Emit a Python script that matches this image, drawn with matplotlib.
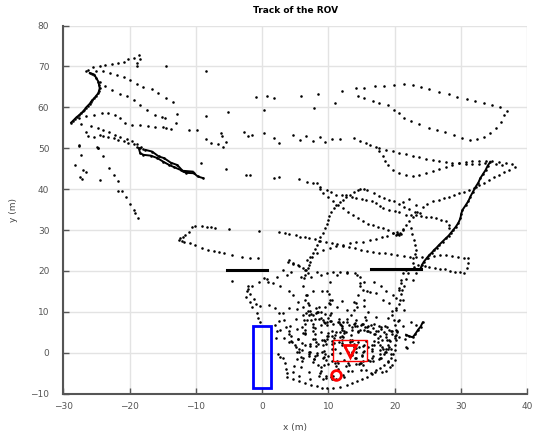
import numpy as np
import matplotlib.pyplot as plt
from matplotlib.patches import Rectangle

# ROV track, one list of (x, y) per stretch
nw_top = [(-18.6, 72.9), (-18.4, 71.8), (-18.9, 70.8), (-18.9, 70.0), (-19.4, 72.0), (-20.2, 71.8),
          (-20.9, 71.2), (-21.7, 70.8), (-22.7, 70.6), (-23.7, 70.4), (-24.5, 70.2), (-25.5, 69.8),
          (-26.3, 69.2), (-26.6, 68.8)]
nw_drop = [(-26.0, 68.4), (-25.6, 68.2), (-25.3, 68.0), (-25.0, 67.1), (-24.7, 66.3), (-24.6, 65.5),
           (-24.5, 64.7), (-24.6, 64.1), (-24.7, 63.5), (-25.0, 62.9), (-25.3, 62.3), (-25.6, 61.8),
           (-25.8, 61.4), (-26.0, 60.9), (-26.3, 60.4), (-26.6, 59.9), (-26.8, 59.4), (-27.0, 59.0),
           (-27.3, 58.6), (-27.6, 58.1), (-28.0, 57.6), (-28.3, 57.1), (-28.6, 56.6), (-28.8, 56.3)]
nw_line1 = [(-25.0, 68.8), (-24.0, 69.0), (-23.0, 68.5), (-21.9, 68.0), (-20.9, 67.4), (-20.0, 66.7),
            (-18.9, 65.8), (-17.9, 64.9), (-16.6, 64.5), (-15.7, 63.6), (-14.5, 62.3), (-13.4, 61.4)]
nw_line2 = [(-24.5, 66.3), (-23.7, 65.3), (-22.7, 64.3), (-21.4, 63.2), (-20.4, 62.7), (-19.4, 61.7),
            (-18.4, 60.6), (-17.3, 59.4), (-16.2, 58.2), (-15.1, 57.6), (-14.6, 57.3), (-13.0, 56.3)]
nw_arc = [(-27.6, 57.4), (-26.5, 57.9), (-25.3, 58.2), (-24.2, 58.6), (-23.2, 58.6), (-22.2, 58.2),
          (-21.4, 57.4), (-20.7, 56.3), (-19.6, 55.7), (-18.4, 55.6), (-17.2, 55.5), (-16.1, 55.3),
          (-14.9, 55.2), (-14.5, 54.9), (-13.8, 54.7), (-11.0, 54.5), (-9.9, 54.5)]
nw_low1 = [(-27.3, 56.0), (-25.8, 55.5), (-24.7, 54.9), (-24.0, 54.5), (-23.1, 53.9), (-22.2, 53.3),
           (-21.4, 52.7), (-20.4, 52.2), (-19.6, 51.7), (-18.9, 51.1), (-18.3, 50.4), (-17.9, 49.9)]
nw_low2 = [(-25.3, 52.7), (-24.5, 53.3), (-24.0, 52.9), (-23.2, 52.7), (-22.4, 52.5), (-21.7, 52.1),
           (-20.9, 51.7), (-20.2, 51.4), (-19.4, 51.1), (-18.9, 50.4), (-18.4, 50.0)]
nw_diag = [(-24.8, 50.1), (-24.0, 48.0), (-23.1, 45.1), (-22.4, 43.5), (-21.8, 41.9), (-21.8, 39.6),
           (-21.2, 39.6), (-20.5, 38.0), (-19.9, 36.4), (-19.4, 34.9), (-19.2, 34.1), (-18.7, 32.9)]
w_thick = [(-18.6, 50.0), (-18.4, 48.8), (-17.9, 48.4), (-16.8, 48.2), (-15.8, 47.6), (-14.9, 46.7),
           (-14.0, 45.9), (-13.3, 45.4), (-12.3, 44.7), (-11.5, 44.0), (-10.3, 43.9), (-9.7, 43.1),
           (-8.9, 42.7)]
w_thick2 = [(-17.6, 49.6), (-16.6, 49.2), (-15.6, 48.0), (-14.8, 47.6), (-13.8, 46.5),
            (-12.8, 45.9), (-12.0, 44.5), (-10.5, 44.3)]
w_dots = [(-26.3, 52.9), (-27.6, 50.6), (-24.7, 50.0), (-26.5, 54.0), (-27.6, 50.8), (-27.3, 48.4),
          (-28.3, 45.9), (-27.0, 44.7), (-26.5, 44.3), (-27.4, 42.9), (-27.2, 42.4), (-24.5, 42.3),
          (-24.9, 50.2), (-12.9, 58.4), (-14.5, 70.0), (-8.4, 68.8), (-8.4, 57.9), (-5.2, 58.8),
          (-0.9, 62.5), (0.8, 62.7), (1.8, 62.3), (5.9, 62.7), (8.4, 63.3), (7.8, 59.8), (0.2, 59.4),
          (11.0, 61.0), (12.0, 64.1), (14.2, 64.7), (-9.2, 46.3), (-5.4, 44.9), (-2.4, 43.5),
          (-1.9, 43.5), (1.8, 42.7), (2.6, 42.9), (5.5, 42.4), (-4.6, 17.6)]
mid_row = [(-8.4, 52.2), (-7.7, 51.4), (-6.6, 51.1), (-6.2, 53.7), (-6.0, 52.9), (-5.9, 50.2),
           (-5.5, 51.6), (-2.8, 54.1), (-2.1, 52.9), (-1.5, 53.2), (0.3, 53.7), (1.8, 52.6), (2.6, 51.4),
           (4.6, 53.3), (5.7, 52.1), (6.6, 52.9), (7.6, 51.7), (8.7, 52.7), (9.4, 51.5), (10.5, 52.2),
           (11.7, 52.2), (13.8, 52.5), (14.8, 51.7), (15.6, 51.3), (16.3, 50.9), (17.1, 50.4)]
ne_loop = [(14.5, 62.8), (15.3, 62.3), (16.7, 61.6), (17.6, 61.1), (19.0, 60.6), (19.9, 59.4),
           (20.6, 58.7), (21.4, 57.5), (22.5, 56.7), (23.7, 56.0), (25.1, 55.0), (26.3, 54.5),
           (27.5, 54.0), (28.9, 53.3), (30.1, 52.6), (31.3, 52.0), (32.4, 52.3), (33.5, 52.8),
           (34.4, 53.8), (35.2, 55.0), (36.0, 56.5), (36.5, 58.2), (36.9, 59.2), (35.8, 60.1),
           (34.7, 60.6), (33.5, 61.1), (32.1, 61.6), (30.9, 62.1), (29.4, 62.6), (28.1, 63.3),
           (26.6, 63.8), (25.2, 64.5), (24.0, 65.0), (22.8, 65.5), (21.4, 65.8), (19.9, 65.5),
           (18.3, 65.3), (17.0, 65.3), (15.3, 64.8)]
e_path1 = [(17.6, 49.4), (18.2, 48.2), (18.5, 47.0), (19.0, 45.8), (19.7, 44.7), (20.7, 44.0),
           (21.7, 43.4), (22.7, 43.2), (23.7, 43.5), (24.7, 43.9), (25.7, 44.4), (26.7, 44.9),
           (27.7, 45.4), (28.7, 45.9), (29.7, 46.4), (30.7, 46.7), (31.7, 46.9), (32.7, 47.0),
           (33.7, 46.9), (34.7, 46.8), (35.7, 46.6), (36.7, 46.3), (37.6, 46.2), (38.2, 45.5)]
e_path2 = [(17.6, 50.0), (18.7, 49.6), (19.7, 49.3), (20.7, 48.9), (21.7, 48.5), (22.7, 48.1),
           (23.7, 47.8), (24.7, 47.5), (25.7, 47.2), (26.7, 47.0), (27.7, 46.7), (28.7, 46.5),
           (29.7, 46.3), (30.7, 46.2), (31.7, 46.2), (32.7, 46.2), (33.6, 46.4), (35.3, 46.2), (36.2, 45.9)]
e_back = [(37.2, 44.7), (36.4, 44.1), (35.7, 43.5), (34.9, 42.9), (34.2, 42.3), (33.4, 41.6),
          (32.7, 41.0), (31.9, 40.4), (31.2, 39.8), (30.4, 39.4), (29.7, 39.0), (28.9, 38.6),
          (28.2, 38.2), (27.4, 37.8), (26.7, 37.4), (25.7, 37.0), (24.9, 36.3), (24.2, 35.7),
          (23.4, 34.5), (22.7, 33.3), (22.2, 32.3), (21.7, 31.2), (21.2, 30.2)]
e_thick = [(34.4, 46.7), (34.0, 45.7), (33.7, 44.7), (33.3, 43.7), (32.9, 42.7), (32.6, 41.6),
           (32.2, 40.6), (31.8, 39.4), (31.4, 38.2), (31.1, 37.1), (30.7, 36.1), (30.2, 34.9),
           (30.0, 33.9), (29.9, 32.9), (29.6, 31.8), (29.2, 30.8), (28.8, 30.0), (28.4, 29.2),
           (28.1, 28.6), (27.7, 28.0), (27.2, 27.2), (26.7, 26.4), (26.3, 25.7), (25.9, 25.1),
           (25.6, 24.5), (25.2, 23.9), (24.8, 23.1), (24.4, 22.3), (24.1, 21.5), (23.9, 20.7)]
c_line_a = [(6.7, 41.8), (7.6, 41.4), (8.2, 41.6), (8.7, 40.6), (9.7, 39.8), (10.4, 39.2), (11.2, 38.6),
            (12.0, 38.6), (12.7, 38.6), (13.5, 38.2), (14.2, 37.8), (15.0, 37.6), (15.7, 37.4),
            (16.5, 37.0), (17.2, 36.5), (17.7, 35.9), (18.2, 35.3), (19.2, 34.9), (20.0, 34.7),
            (20.7, 34.5), (21.7, 33.7), (22.4, 33.7), (23.2, 33.7), (24.0, 33.5), (24.7, 33.3),
            (25.5, 33.1), (26.2, 32.9), (27.0, 32.5), (27.7, 32.1), (28.2, 31.2), (28.2, 30.4)]
c_line_b = [(8.7, 40.0), (9.2, 39.0), (9.9, 38.0), (10.7, 37.0), (11.4, 36.1), (12.2, 35.3),
            (12.9, 34.5), (13.7, 33.7), (14.4, 32.9), (15.2, 32.1), (16.0, 31.6), (16.7, 31.2),
            (17.5, 30.8), (18.2, 30.4), (19.0, 29.9), (19.7, 29.4), (20.2, 28.8), (20.5, 29.0),
            (20.8, 29.3), (21.2, 30.0), (20.3, 29.5), (20.6, 28.9), (20.9, 29.1), (20.4, 29.0)]
c_line_c = [(14.8, 40.0), (14.4, 39.8), (13.8, 39.2), (13.2, 38.6), (12.7, 38.0), (12.2, 37.4),
            (11.7, 36.8), (11.2, 36.1), (10.8, 35.3), (10.4, 34.5), (10.1, 33.5), (9.9, 32.5),
            (9.7, 31.5), (9.4, 30.4), (9.1, 29.4), (8.7, 28.4), (8.5, 27.4), (8.2, 26.4), (8.0, 25.4),
            (7.7, 24.3), (7.5, 23.3), (7.2, 22.3), (7.1, 21.5), (6.9, 20.7)]
c_line_d = [(15.3, 40.0), (15.8, 39.8), (16.8, 39.0), (17.6, 38.4), (18.4, 37.8), (19.2, 37.3),
            (19.9, 37.0), (20.6, 36.3), (21.4, 35.7), (22.2, 35.1), (23.0, 34.5), (23.8, 34.1),
            (21.2, 36.9), (22.2, 37.5), (23.2, 36.1)]
long_diag = [(2.6, 29.6), (3.4, 29.3), (4.1, 29.1), (5.1, 28.8), (5.7, 28.4), (6.4, 28.2), (7.1, 28.0),
             (7.9, 27.7), (8.7, 27.4), (9.6, 27.1), (10.5, 26.8), (11.3, 26.5), (12.2, 26.1),
             (13.1, 25.8), (14.0, 25.5), (14.9, 25.2), (15.8, 25.0), (16.7, 24.7), (17.6, 24.5),
             (18.5, 24.3), (19.4, 24.1), (20.4, 23.9), (21.4, 23.7), (22.3, 23.5), (23.2, 23.4),
             (24.1, 23.3), (25.0, 23.2), (25.9, 23.6), (26.8, 23.9), (27.7, 23.8), (28.6, 23.6),
             (29.5, 23.4), (30.4, 23.2), (31.0, 23.1), (31.1, 21.9), (30.9, 20.7), (30.5, 19.6),
             (29.8, 19.7), (29.1, 19.8), (28.3, 20.1), (27.6, 20.4), (26.8, 20.6), (26.0, 20.8),
             (25.2, 21.0), (24.5, 21.3)]
up_diag = [(7.2, 23.5), (8.2, 24.3), (9.2, 25.1), (10.2, 25.6), (11.2, 26.0), (12.2, 26.4), (13.2, 26.8),
           (14.2, 27.0), (15.2, 27.2), (16.2, 27.5), (17.2, 27.7), (18.0, 28.2), (18.8, 28.6),
           (19.7, 29.2), (22.4, 30.4), (22.6, 29.0), (22.9, 27.6), (23.0, 26.3), (23.2, 25.1),
           (23.0, 24.1), (22.7, 23.1), (22.8, 22.0), (22.9, 21.0)]
w_loop = [(-0.5, 29.8), (-5.0, 30.2), (-7.1, 30.5), (-7.7, 30.7), (-8.3, 30.8), (-9.1, 31.0),
          (-10.1, 31.0), (-10.6, 30.7), (-11.0, 29.5), (-11.6, 28.8), (-12.0, 28.3), (-12.4, 28.0),
          (-12.5, 27.6), (-12.1, 27.3), (-11.8, 27.1), (-10.9, 26.8), (-10.1, 26.4), (-9.1, 25.6),
          (-8.2, 25.1), (-7.3, 24.9), (-6.5, 24.6), (-5.8, 24.4), (-4.6, 23.9), (-3.1, 23.4),
          (-1.9, 23.2), (-0.7, 23.1)]

# dense knot of the track near the dock
knot_outer = [(2.4, -0.2), (2.7, -1.0), (3.1, -1.2), (3.4, -2.6), (3.6, -3.9), (3.7, -5.0), (3.8, -6.0),
              (4.6, -6.4), (5.6, -6.8), (6.5, -7.3), (7.4, -7.8), (8.2, -8.2), (9.0, -8.5), (9.7, -8.6),
              (10.7, -8.5), (11.7, -8.3), (12.8, -7.8), (13.6, -7.3), (14.3, -6.8), (15.1, -6.4),
              (15.8, -6.0), (16.5, -5.2), (17.1, -4.3), (17.8, -3.7), (18.4, -3.1), (18.9, -2.2),
              (19.4, -1.4), (19.8, -0.4), (20.0, 0.7), (20.1, 1.9), (20.2, 3.1), (20.2, 4.3), (20.2, 5.6),
              (20.0, 6.9), (19.9, 8.1), (19.6, 9.2), (19.6, 10.2), (20.2, 11.0), (20.7, 11.8),
              (20.8, 13.0), (20.9, 14.3), (21.1, 15.4), (21.4, 16.4), (21.7, 18.0), (22.0, 19.5)]
knot_west = [(-0.5, 17.2), (-1.5, 16.4), (-2.1, 15.5), (-1.8, 14.3), (-1.3, 13.1), (-1.0, 11.8),
             (-0.3, 11.4), (1.0, 11.6), (2.0, 11.0), (2.6, 9.8), (3.3, 8.1), (3.6, 6.4), (4.1, 5.2),
             (4.3, 4.0), (4.1, 2.7), (5.1, 1.5), (6.0, 0.6), (7.0, -0.4), (7.8, -1.6), (8.4, -3.0),
             (8.9, -4.5), (9.6, -5.6), (10.5, -6.3), (1.9, 6.9), (2.3, 5.2), (2.1, 3.6), (-2.1, 16.2),
             (-2.3, 15.0), (-2.4, 13.7), (-1.8, 12.5), (-1.6, 11.3), (-0.8, 9.7), (-0.6, 8.4), (-0.3, 7.6)]
knot_top = [(0.7, 18.0), (2.2, 18.5), (3.2, 20.2), (3.7, 19.0), (4.4, 19.8), (5.9, 18.6), (6.4, 19.0),
            (6.2, 20.7), (5.4, 21.5), (4.7, 21.7), (3.9, 22.3), (6.7, 22.7), (6.6, 20.2), (6.3, 18.2),
            (6.2, 16.2), (6.6, 14.1), (6.9, 12.1), (7.2, 10.1), (7.4, 8.0), (7.6, 6.2), (7.9, 4.5),
            (8.2, 19.8), (8.9, 19.0), (9.7, 19.6), (10.7, 19.8), (11.7, 19.8), (12.8, 19.8), (14.0, 19.4),
            (14.7, 18.6), (14.8, 17.0), (14.7, 16.2), (14.4, 14.1), (14.2, 12.1), (13.9, 10.5),
            (13.4, 9.3), (12.8, 8.2), (15.2, 15.4), (16.2, 14.9), (17.2, 14.5), (18.2, 12.9),
            (19.2, 12.1), (20.2, 10.5), (16.8, 17.4), (17.9, 16.2), (18.7, 15.0), (19.7, 14.1),
            (20.2, 13.3), (4.1, 22.7), (4.6, 21.9), (5.6, 21.1), (6.4, 20.3), (6.9, 19.4), (7.4, 18.6)]
knot_diag = [(0.2, 18.2), (0.9, 17.4), (1.7, 17.0), (2.7, 16.2), (4.0, 15.0), (4.7, 14.1), (5.4, 12.5),
             (6.2, 11.3), (6.9, 10.1), (7.7, 9.2), (8.5, 8.3), (9.3, 7.6)]
knot_ring = [(10.5, 13.0), (10.1, 14.4), (9.0, 15.2), (7.7, 15.1), (6.8, 14.2), (6.5, 12.8), (7.0, 11.6),
             (8.1, 10.9), (9.4, 11.1), (10.3, 12.0)]
knot_oval = [(15.8, 15.0), (15.4, 17.3), (14.3, 18.9), (12.8, 19.5), (11.3, 18.9), (10.2, 17.3),
             (9.8, 15.0), (10.2, 12.8), (11.3, 11.2), (12.8, 10.5), (14.3, 11.2), (15.4, 12.8)]
knot_east = [(20.9, 17.0), (20.7, 15.8), (21.2, 19.4), (22.7, 17.8), (23.2, 19.4), (23.5, 21.5),
             (21.7, 20.2), (20.9, 17.8), (20.6, 15.4), (21.2, 12.9), (21.4, 10.5), (20.6, 8.0),
             (22.4, 7.6), (23.2, 6.8), (21.9, 1.1), (21.7, 1.5)]
knot_hook = [(24.2, 7.4), (23.9, 6.4), (23.5, 5.6), (23.1, 4.6), (22.7, 3.8), (22.2, 4.0), (21.7, 4.4)]
core_a = [(19.0, 2.0), (18.6, 3.8), (17.5, 5.3), (15.8, 6.4), (13.8, 7.0), (11.8, 7.1), (9.8, 6.8),
          (8.0, 6.0), (6.4, 4.8), (5.4, 3.3), (5.0, 1.8), (5.3, 0.2), (6.2, -1.2), (7.6, -2.3),
          (9.3, -3.0), (11.2, -3.2), (13.1, -3.0), (14.9, -2.4), (16.5, -1.4), (17.8, -0.2), (18.6, 1.0)]
core_b = [(19.2, 1.5), (18.8, 3.0), (17.8, 4.2), (16.3, 5.0), (14.5, 5.3), (12.6, 5.1), (11.0, 4.4),
          (9.8, 3.3), (9.2, 1.9), (9.3, 0.4), (10.0, -0.9), (11.3, -1.9), (12.9, -2.5), (14.7, -2.6),
          (16.3, -2.1), (17.7, -1.2), (18.7, 0.1)]
core_c = [(15.0, -0.5), (14.6, 1.5), (13.5, 3.0), (11.8, 3.9), (9.8, 4.0), (8.0, 3.3), (6.5, 2.0),
          (5.5, 0.3), (5.3, -1.6), (5.8, -3.4), (7.0, -4.8), (8.6, -5.7), (10.4, -6.0), (12.2, -5.5),
          (13.6, -4.4), (14.6, -2.7)]
core_d = [(20.0, 3.5), (19.6, 5.2), (18.5, 6.5), (16.8, 7.1), (15.0, 7.0), (13.5, 6.2), (12.4, 4.8),
          (12.1, 3.1), (12.5, 1.4), (13.5, 0.1), (15.0, -0.7), (16.7, -0.9), (18.3, -0.3), (19.4, 1.0)]
core_e = [(12.0, 5.5), (11.5, 7.5), (10.2, 9.2), (8.4, 10.0), (6.6, 9.6), (5.1, 8.3), (4.2, 6.5),
          (4.0, 4.5), (4.5, 2.6), (5.6, 1.0), (7.2, 0.1), (9.0, 0.1), (10.6, 1.0), (11.6, 2.6), (12.0, 4.1)]
core_f = [(20.0, 4.2), (19.4, 5.4), (17.9, 6.3), (16.0, 6.6), (14.0, 6.6), (12.1, 6.1), (10.6, 5.2),
          (10.0, 4.0), (10.5, 2.8), (12.0, 1.9), (13.9, 1.5), (15.9, 1.5), (17.8, 1.9), (19.3, 2.8)]
core_g = [(12.0, 6.5), (11.6, 8.3), (10.4, 9.6), (8.8, 10.0), (7.3, 9.4), (6.3, 8.0), (6.0, 6.3),
          (6.5, 4.6), (7.7, 3.3), (9.3, 3.0), (10.8, 3.7), (11.8, 5.0)]
core_h = [(20.0, -1.8), (19.5, -0.3), (18.2, 0.8), (16.6, 1.0), (15.2, 0.2), (14.2, -1.2), (14.1, -2.8),
          (14.9, -4.2), (16.4, -5.0), (18.0, -4.7), (19.3, -3.6)]
core_i = [(11.5, -4.0), (11.0, -2.6), (9.6, -1.7), (7.8, -1.5), (6.0, -2.0), (4.8, -3.2), (4.6, -4.6),
          (5.5, -5.8), (7.2, -6.5), (9.1, -6.5), (10.7, -5.6)]
core_j = [(16.0, 10.0), (15.4, 11.5), (13.9, 12.4), (12.0, 12.6), (10.1, 12.2), (8.6, 11.2), (8.1, 9.8),
          (8.8, 8.5), (10.3, 7.7), (12.2, 7.5), (14.1, 7.9), (15.5, 8.8)]
core_k = [(6.5, 7.0), (6.2, 9.3), (5.3, 10.8), (4.1, 11.0), (3.1, 9.8), (2.6, 7.8), (2.7, 5.6),
          (3.3, 3.7), (4.3, 2.8), (5.4, 3.3), (6.2, 4.8)]
core_l = [(18.5, 0.2), (18.0, 1.4), (16.8, 2.0), (15.3, 2.0), (14.1, 1.2), (13.6, 0.0), (14.0, -1.2),
          (15.2, -1.9), (16.7, -1.9), (17.9, -1.2)]
core_m = [(14.0, 1.2), (13.5, 2.8), (12.2, 3.9), (10.5, 4.0), (9.0, 3.2), (8.1, 1.7), (8.2, 0.0),
          (9.1, -1.4), (10.6, -2.0), (12.3, -1.7), (13.5, -0.6)]
core_n = [(21.2, 6.5), (20.5, 7.8), (19.0, 8.6), (17.2, 8.7), (15.6, 8.0), (14.9, 6.8), (15.4, 5.5),
          (16.8, 4.6), (18.6, 4.5), (20.3, 5.2)]
core_o = [(13.0, -4.5), (12.6, -3.3), (11.4, -2.6), (9.9, -2.7), (8.8, -3.6), (8.7, -5.0), (9.6, -6.1),
          (11.1, -6.5), (12.4, -5.9)]
core_p = [(17.5, 3.5), (17.0, 4.6), (15.8, 5.2), (14.4, 5.1), (13.4, 4.3), (13.2, 3.1), (13.9, 2.1),
          (15.2, 1.6), (16.6, 1.9), (17.4, 2.6)]
core_q = [(11.0, 1.0), (10.6, 2.2), (9.5, 2.8), (8.1, 2.6), (7.2, 1.6), (7.1, 0.3), (7.9, -0.8),
          (9.3, -1.1), (10.5, -0.4)]
core_r = [(19.6, -3.0), (19.0, -2.0), (17.6, -1.5), (16.0, -1.8), (15.2, -2.9), (15.6, -4.2),
          (17.0, -4.8), (18.6, -4.4)]
core_s = [(10.0, 8.5), (9.5, 9.5), (8.3, 9.9), (7.1, 9.3), (6.8, 8.1), (7.6, 7.1), (8.9, 6.9), (9.8, 7.6)]
band_1 = [(5.2, 5.8), (6.4, 5.5), (7.6, 5.3), (8.8, 5.0), (10.0, 4.9), (11.2, 5.0), (12.4, 5.3),
          (13.6, 5.6), (14.8, 5.6), (16.0, 5.4), (17.2, 5.2), (18.4, 5.0), (19.6, 4.6), (20.6, 3.9),
          (21.6, 3.3), (22.7, 2.6)]
band_2 = [(9.5, 7.2), (10.7, 7.0), (11.9, 6.8), (13.1, 6.7), (14.3, 6.5), (15.5, 6.3), (16.7, 6.1),
          (17.9, 5.9), (19.1, 5.6), (20.3, 5.0), (8.0, 8.2), (9.2, 8.0), (10.4, 7.8), (11.6, 7.6),
          (12.8, 7.5), (14.0, 7.3), (15.2, 7.1), (16.4, 6.9), (17.6, 6.6), (18.8, 6.3)]
band_3 = [(6.0, 2.4), (7.2, 2.2), (8.4, 2.1), (9.6, 2.2), (10.8, 2.3), (12.0, 2.5), (13.2, 2.6),
          (14.4, 2.7), (15.6, 2.8), (16.8, 2.9), (18.0, 3.0), (19.2, 3.2)]
band_4 = [(5.8, -1.0), (7.0, -0.8), (8.2, -0.6), (9.4, -0.4), (10.6, -0.2), (11.8, 0.0), (13.0, 0.1),
          (14.2, 0.2), (15.4, 0.4), (16.6, 0.5), (17.8, 0.6), (19.0, 0.8)]

dotted = [nw_top, nw_line1, nw_line2, nw_arc, nw_low1, nw_low2, nw_diag, w_dots, mid_row, ne_loop,
          e_path1, e_path2, e_back, c_line_a, c_line_b, c_line_c, c_line_d, long_diag, up_diag, w_loop,
          knot_outer, knot_west, knot_top, knot_diag, knot_ring, knot_oval, knot_east, core_a, core_b,
          core_c, core_d, core_e, core_f, core_g, core_h, core_i, core_j, core_k, core_l, core_m,
          core_n, core_o, core_p, core_q, core_r, core_s, band_1, band_2, band_3, band_4]
thick = [nw_drop, w_thick, w_thick2, e_thick, knot_hook]

# fixed features
bar_left_x = [-5.3, 0.8]
bar_left_y = [20.3, 20.3]
bar_right_x = [16.4, 24.0]
bar_right_y = [20.4, 20.4]
dock = (-1.4, -8.7, 2.7, 15.3)        # x, y, width, height
target_box = (10.7, -2.0, 5.1, 5.0)
target_mark = (13.3, 0.4)
start_mark = (11.2, -5.4)

fig = plt.figure(figsize=(5.36, 4.34), dpi=100)
ax = fig.add_axes([0.118, 0.093, 0.866, 0.848])

for seg in dotted:
    pts = np.array(seg)
    ax.plot(pts[:, 0], pts[:, 1], '.', color='black', ms=3.7, mew=0, zorder=3)
for seg in thick:
    pts = np.array(seg)
    ax.plot(pts[:, 0], pts[:, 1], '.-', color='black', ms=3.7, mew=0, lw=1.4, zorder=3)

ax.plot(bar_left_x, bar_left_y, color='black', lw=2.2, zorder=3)
ax.plot(bar_right_x, bar_right_y, color='black', lw=2.2, zorder=3)

ax.add_patch(Rectangle(dock[:2], dock[2], dock[3], fill=False, edgecolor='blue', lw=2.0, zorder=4))
ax.add_patch(Rectangle(target_box[:2], target_box[2], target_box[3], fill=False,
                       edgecolor='red', lw=1.0, zorder=4))
ax.plot(*target_mark, 'v', ms=8, mfc='none', mec='red', mew=2, zorder=5)
ax.plot(*start_mark, 'o', ms=7, mfc='none', mec='red', mew=2, zorder=5)

ax.set_xlim(-30, 40)
ax.set_ylim(-10, 80)
ax.set_xticks(np.arange(-30, 41, 10))
ax.set_yticks(np.arange(-10, 81, 10))
ax.grid(True, color='#e3e3e3', lw=1.0)
ax.set_axisbelow(True)
for side in ['top', 'right']:
    ax.spines[side].set_visible(False)
for side in ['left', 'bottom']:
    ax.spines[side].set_color('#555555')
    ax.spines[side].set_linewidth(1.5)
ax.tick_params(direction='in', length=4, width=1, colors='#555555', labelsize=6.5)
ax.tick_params(axis='x', pad=6)
ax.tick_params(axis='y', pad=10)

ax.set_title('Track of the ROV', fontsize=6.5, fontweight='bold', pad=9)
ax.set_xlabel('x (m)', fontsize=6.5, color='#444444', labelpad=9)
ax.set_ylabel('y (m)', fontsize=6.5, color='#444444', labelpad=9)

plt.savefig('out.png', dpi=100)
